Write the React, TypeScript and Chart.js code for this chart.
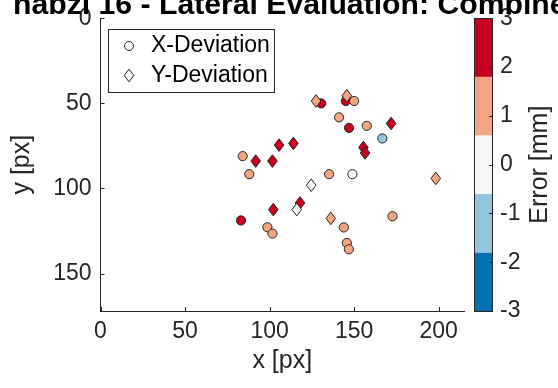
import React, { useEffect, useRef } from "react";
import { Chart, registerables } from "chart.js";

Chart.register(...registerables);

// ---- data ----
const titleText = "nabzl 16 - Lateral Evaluation: Combined";
const legendLabels = ["X-Deviation", "Y-Deviation"];
const xAxisTitle = "x [px]";
const yAxisTitle = "y [px]";
const cbTitle = "Error [mm]";

const xDevX = [130.5, 141.1, 84.1, 88.0, 135.2, 145.1, 150.0, 147.0, 157.5, 166.7, 149.0, 83.1, 98.7, 101.7, 143.9, 145.7, 146.9, 172.7];
const xDevY = [50.0, 58.2, 81.0, 91.6, 91.6, 48.6, 48.6, 64.4, 63.2, 70.6, 91.6, 118.8, 122.8, 126.5, 122.9, 132.0, 135.7, 116.3];
const xDevErr = [2.2, 1.3, 1.1, 1.4, 0.9, 2.5, 1.2, 2.1, 1.0, -0.9, 0.3, 2.4, 1.5, 1.2, 1.1, 1.3, 1.6, 0.8];

const yDevX = [127.5, 105.6, 114.1, 91.8, 101.7, 124.6, 145.7, 171.9, 155.5, 156.5, 198.3, 102.2, 118.0, 116.1, 136.2];
const yDevY = [48.6, 74.5, 73.5, 83.9, 83.9, 98.1, 45.5, 61.8, 75.9, 79.1, 94.1, 112.4, 108.5, 112.4, 117.6];
const yDevErr = [1.4, 2.3, 2.6, 2.2, 2.0, 0.2, 1.1, 2.4, 2.1, 2.7, 1.2, 2.5, 1.9, -0.3, 1.0];

const xTicks = [0, 50, 100, 150, 200];
const yTicks = [0, 50, 100, 150];
const cbTicks = [-3, -2, -1, 0, 1, 2, 3];
const cbEdges = [-3, -1.8, -0.6, 0.6, 1.8, 3];
const cbColors = ["#0571B0", "#92C5DE", "#F7F7F7", "#F4A582", "#CA0020"];

const AX = "#262626";
const FONT = "'Liberation Sans', Arial, Helvetica, sans-serif";
const TICK_SIZE = 23;

function errColor(v: number): string {
  for (let i = 0; i < cbColors.length; i++) {
    if (v < cbEdges[i + 1] || i === cbColors.length - 1) return cbColors[i];
  }
  return cbColors[cbColors.length - 1];
}

function diamond(ctx: CanvasRenderingContext2D, x: number, y: number, hw: number, hh: number, fill: string) {
  ctx.beginPath();
  ctx.moveTo(x, y - hh);
  ctx.lineTo(x + hw, y);
  ctx.lineTo(x, y + hh);
  ctx.lineTo(x - hw, y);
  ctx.closePath();
  ctx.fillStyle = fill;
  ctx.fill();
  ctx.lineWidth = 1;
  ctx.strokeStyle = AX;
  ctx.stroke();
}

const decor = {
  id: "decor",
  afterDatasetsDraw(chart: any) {
    const ctx: CanvasRenderingContext2D = chart.ctx;
    const meta = chart.getDatasetMeta(1);
    ctx.save();
    meta.data.forEach((el: any, i: number) => {
      diamond(ctx, el.x, el.y, 4.8, 6.3, errColor(yDevErr[i]));
    });
    ctx.restore();
  },
  afterDraw(chart: any) {
    const ctx: CanvasRenderingContext2D = chart.ctx;
    const area = chart.chartArea;
    const xs = chart.scales.x;
    const ys = chart.scales.y;
    const cb = chart.scales.cb;
    ctx.save();
    // inward ticks
    ctx.strokeStyle = AX;
    ctx.lineWidth = 1;
    ctx.beginPath();
    xTicks.forEach((v) => {
      const px = Math.round(xs.getPixelForValue(v)) + 0.5;
      ctx.moveTo(px, area.bottom);
      ctx.lineTo(px, area.bottom - 4);
    });
    yTicks.forEach((v) => {
      const py = Math.round(ys.getPixelForValue(v)) + 0.5;
      ctx.moveTo(area.left, py);
      ctx.lineTo(area.left + 4, py);
    });
    ctx.stroke();

    // colorbar
    const cbL = 474, cbR = 493;
    for (let i = 0; i < cbColors.length; i++) {
      const y0 = cb.getPixelForValue(cbEdges[i]);
      const y1 = cb.getPixelForValue(cbEdges[i + 1]);
      ctx.fillStyle = cbColors[i];
      ctx.fillRect(cbL, y1, cbR - cbL, y0 - y1);
    }
    const cTop = cb.getPixelForValue(3), cBot = cb.getPixelForValue(-3);
    ctx.strokeStyle = AX;
    ctx.strokeRect(cbL + 0.5, Math.round(cTop) + 0.5, cbR - cbL - 1, Math.round(cBot - cTop));
    ctx.beginPath();
    cbTicks.forEach((v) => {
      const py = Math.round(cb.getPixelForValue(v)) + 0.5;
      ctx.moveTo(cbR - 0.5, py);
      ctx.lineTo(cbR - 4, py);
    });
    ctx.stroke();

    // title
    ctx.fillStyle = "#000";
    ctx.font = `bold 30.2px ${FONT}`;
    ctx.textAlign = "left";
    ctx.textBaseline = "alphabetic";
    ctx.fillText(titleText, 13, 13.5);

    // axis titles
    ctx.fillStyle = AX;
    ctx.font = `25px ${FONT}`;
    ctx.textAlign = "center";
    ctx.textBaseline = "middle";
    ctx.fillText(xAxisTitle, (area.left + area.right) / 2, 361);
    ctx.save();
    ctx.translate(22, (area.top + area.bottom) / 2);
    ctx.rotate(-Math.PI / 2);
    ctx.fillText(yAxisTitle, 0, 0);
    ctx.restore();
    ctx.save();
    ctx.translate(540, (cTop + cBot) / 2);
    ctx.rotate(-Math.PI / 2);
    ctx.fillText(cbTitle, 0, 0);
    ctx.restore();

    // legend
    const lx = 108.5, ly = 29.5, lw = 166, lh = 63;
    ctx.fillStyle = "#fff";
    ctx.fillRect(lx, ly, lw, lh);
    ctx.strokeStyle = AX;
    ctx.strokeRect(lx, ly, lw, lh);
    ctx.beginPath();
    ctx.arc(129, 46, 4.5, 0, Math.PI * 2);
    ctx.fillStyle = "#fff";
    ctx.fill();
    ctx.strokeStyle = AX;
    ctx.stroke();
    diamond(ctx, 129, 75.5, 4.8, 6.3, "#fff");
    ctx.fillStyle = "#000";
    ctx.font = `23px ${FONT}`;
    ctx.textAlign = "left";
    ctx.textBaseline = "middle";
    ctx.fillText(legendLabels[0], 151, 46);
    ctx.fillText(legendLabels[1], 151, 75.5);
    ctx.restore();
  },
};

export default function App() {
  const ref = useRef<HTMLCanvasElement>(null);
  useEffect(() => {
    const chart = new Chart(ref.current as HTMLCanvasElement, {
      type: "scatter",
      data: {
        datasets: [
          {
            label: legendLabels[0],
            data: xDevX.map((x, i) => ({ x, y: xDevY[i] })),
            pointStyle: "circle",
            pointRadius: 4.6,
            pointHoverRadius: 4.6,
            pointBorderWidth: 1,
            pointBorderColor: AX,
            pointBackgroundColor: xDevErr.map(errColor),
          },
          {
            label: legendLabels[1],
            data: yDevX.map((x, i) => ({ x, y: yDevY[i] })),
            pointRadius: 0,
            pointHoverRadius: 0,
          },
        ],
      },
      options: {
        responsive: false,
        animation: false,
        events: [],
        layout: { autoPadding: false, padding: { left: 0, right: 0, top: 18.3, bottom: 0 } },
        plugins: { legend: { display: false }, tooltip: { enabled: false }, title: { display: false } },
        scales: {
          x: {
            type: "linear",
            position: "bottom",
            min: 0,
            max: 215,
            grid: { display: false, drawTicks: true, tickLength: 7 },
            border: { display: true, color: AX, width: 1 },
            ticks: { color: AX, font: { family: FONT, size: TICK_SIZE }, padding: 0, callback: (v: any) => String(v) },
            afterBuildTicks: (s: any) => { s.ticks = xTicks.map((v) => ({ value: v })); },
            afterFit: (s: any) => { s.height = 388 - 311; },
          },
          y: {
            type: "linear",
            position: "left",
            reverse: true,
            min: 0,
            max: 172,
            grid: { display: false, drawTicks: true, tickLength: 9 },
            border: { display: true, color: AX, width: 1 },
            ticks: { color: AX, font: { family: FONT, size: TICK_SIZE }, padding: 0, callback: (v: any) => String(v) },
            afterBuildTicks: (s: any) => { s.ticks = yTicks.map((v) => ({ value: v })); },
            afterFit: (s: any) => { s.width = 100.5; },
          },
          cb: {
            type: "linear",
            position: "right",
            min: -3,
            max: 3,
            grid: { display: false, drawTicks: true, tickLength: 36 },
            border: { display: false },
            ticks: { color: AX, font: { family: FONT, size: TICK_SIZE }, padding: 0, callback: (v: any) => String(v) },
            afterBuildTicks: (s: any) => { s.ticks = cbTicks.map((v) => ({ value: v })); },
            afterFit: (s: any) => { s.width = 94; },
          },
        },
      },
      plugins: [decor],
    } as any);
    return () => chart.destroy();
  }, []);
  return (
    <div style={{ position: "absolute", left: 0, top: 0, width: 558, height: 388, background: "#fff" }}>
      <canvas ref={ref} width={558} height={388} style={{ display: "block", width: 558, height: 388 }} />
    </div>
  );
}
